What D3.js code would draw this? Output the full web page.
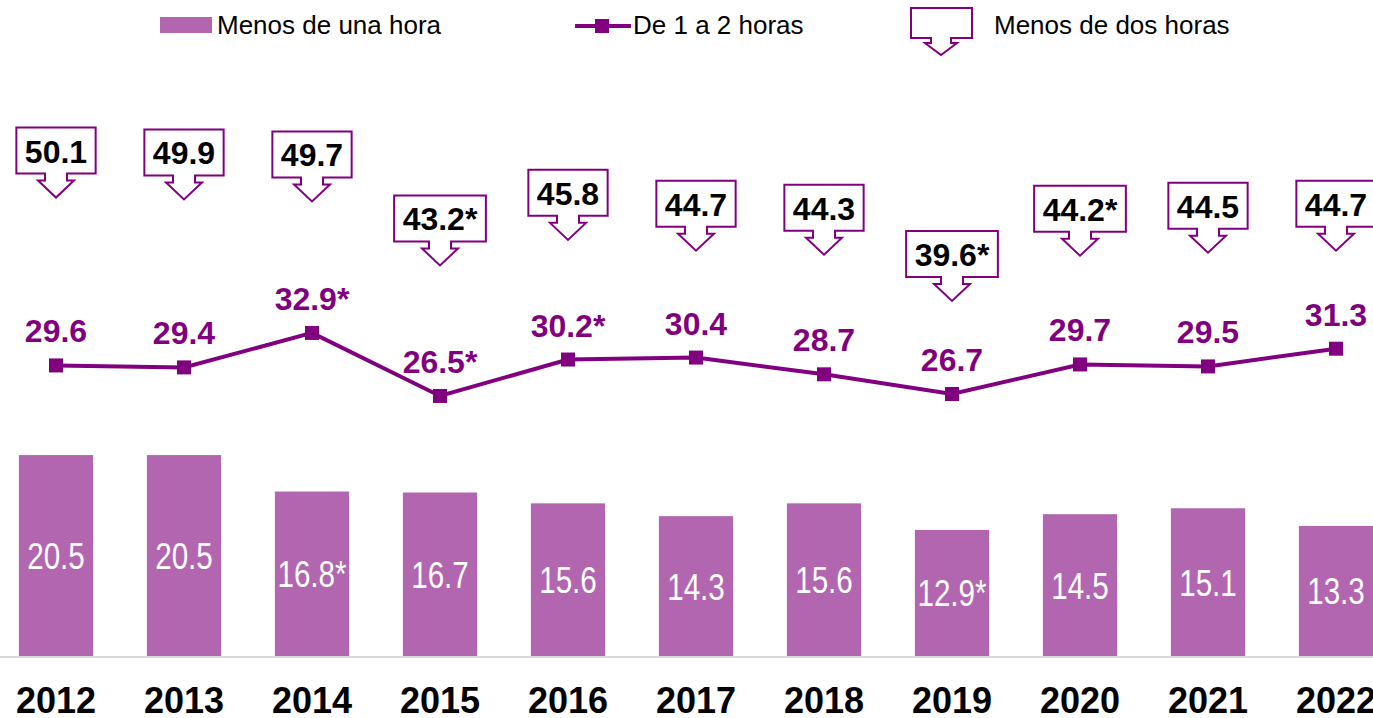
<!DOCTYPE html>
<html>
<head>
<meta charset="utf-8">
<script src="https://d3js.org/d3.v7.min.js"></script>
<style>
  body { margin: 0; background: #fff; }
  svg { display: block; font-family: Arial, "Liberation Sans", sans-serif; }
</style>
</head>
<body>
<script>
// data
var years = ["2012","2013","2014","2015","2016","2017","2018","2019","2020","2021","2022"];
var lessOne = [20.5, 20.5, 16.8, 16.7, 15.6, 14.3, 15.6, 12.9, 14.5, 15.1, 13.3];
var lessOneMark = ["", "", "*", "", "", "", "", "*", "", "", ""];
var oneToTwo = [29.6, 29.4, 32.9, 26.5, 30.2, 30.4, 28.7, 26.7, 29.7, 29.5, 31.3];
var oneToTwoMark = ["", "", "*", "*", "*", "", "", "", "", "", ""];
var lessTwo = [50.1, 49.9, 49.7, 43.2, 45.8, 44.7, 44.3, 39.6, 44.2, 44.5, 44.7];
var lessTwoMark = ["", "", "", "*", "", "", "", "*", "*", "", ""];
var legendNames = ["Menos de una hora", "De 1 a 2 horas", "Menos de dos horas"];

var w = 1373, h = 718;
var barColor = "#b266b0", lineColor = "#800080";

var svg = d3.select("body").append("svg")
  .attr("width", w)
  .attr("height", h);

var x = d3.scaleBand()
  .domain(years)
  .range([-8, 1400])
  .paddingInner(0.42)
  .paddingOuter(0.21);

var y = d3.scaleLinear()
  .domain([0, 66.7])
  .range([657, 0]);

var cx = function(d, i) { return x(years[i]) + x.bandwidth() / 2; };

// bars
svg.selectAll("rect.bar")
  .data(lessOne)
  .enter().append("rect")
  .attr("class", "bar")
  .attr("x", function(d, i) { return x(years[i]); })
  .attr("y", function(d) { return y(d); })
  .attr("width", x.bandwidth())
  .attr("height", function(d) { return y(0) - y(d); })
  .attr("fill", barColor);

// condensed look: no narrow font installed, so squeeze horizontally
svg.selectAll("text.barlabel")
  .data(lessOne)
  .enter().append("text")
  .attr("class", "barlabel")
  .attr("transform", function(d, i) {
    return "translate(" + cx(d, i) + "," + ((y(d) + y(0)) / 2 + 13) + ") scale(0.8,1)";
  })
  .attr("text-anchor", "middle")
  .attr("fill", "#fff")
  .style("font-size", "37px")
  .text(function(d, i) { return d.toFixed(1) + lessOneMark[i]; });

// axis baseline
svg.append("line")
  .attr("x1", 0).attr("x2", w)
  .attr("y1", y(0)).attr("y2", y(0))
  .attr("stroke", "#d9d9d9")
  .attr("stroke-width", 2);

// x axis labels
svg.selectAll("text.year")
  .data(years)
  .enter().append("text")
  .attr("class", "year")
  .attr("x", function(d) { return x(d) + x.bandwidth() / 2; })
  .attr("y", 713)
  .attr("text-anchor", "middle")
  .style("font-size", "36px")
  .style("font-weight", "bold")
  .text(function(d) { return d; });

// line
var line = d3.line()
  .x(cx)
  .y(function(d) { return y(d); });

svg.append("path")
  .datum(oneToTwo)
  .attr("d", line)
  .attr("fill", "none")
  .attr("stroke", lineColor)
  .attr("stroke-width", 4);

svg.selectAll("rect.marker")
  .data(oneToTwo)
  .enter().append("rect")
  .attr("class", "marker")
  .attr("x", function(d, i) { return cx(d, i) - 7; })
  .attr("y", function(d) { return y(d) - 7; })
  .attr("width", 14)
  .attr("height", 14)
  .attr("fill", lineColor);

svg.selectAll("text.linelabel")
  .data(oneToTwo)
  .enter().append("text")
  .attr("class", "linelabel")
  .attr("x", cx)
  .attr("y", function(d) { return y(d) - 23; })
  .attr("text-anchor", "middle")
  .attr("fill", lineColor)
  .style("font-size", "32px")
  .style("font-weight", "bold")
  .text(function(d, i) { return d.toFixed(1) + oneToTwoMark[i]; });

// callout shape: box centered on cx, arrow tip at (cx, tip)
function callout(c, tip, bw, bh) {
  var bot = tip - 24, top = bot - bh;
  var l = c - bw / 2, r = c + bw / 2;
  return "M" + l + "," + top + "H" + r + "V" + bot +
    "H" + (c + 11) + "V" + (bot + 7) + "H" + (c + 18) +
    "L" + c + "," + tip + "L" + (c - 18) + "," + (bot + 7) +
    "H" + (c - 11) + "V" + bot + "H" + l + "Z";
}

var calls = svg.selectAll("g.callout")
  .data(lessTwo)
  .enter().append("g")
  .attr("class", "callout");

calls.each(function(d, i) {
  var g = d3.select(this);
  var tip = y(d) + 34;
  var p = g.append("path");
  var t = g.append("text")
    .attr("x", cx(d, i))
    .attr("y", tip - 35)
    .attr("text-anchor", "middle")
    .attr("fill", "#000")
    .style("font-size", "32px")
    .style("font-weight", "bold")
    .text(d.toFixed(1) + lessTwoMark[i]);
  var tw = t.node().getComputedTextLength();
  p.attr("d", callout(cx(d, i), tip, tw + 17, 46))
    .attr("fill", "#fff")
    .attr("stroke", lineColor)
    .attr("stroke-width", 2);
});

// legend
var lg = svg.append("g").style("font-size", "26px");
lg.append("rect")
  .attr("x", 160).attr("y", 17).attr("width", 52).attr("height", 16)
  .attr("fill", barColor);
lg.append("text").attr("x", 217).attr("y", 34).text(legendNames[0]);

lg.append("line")
  .attr("x1", 575).attr("x2", 631).attr("y1", 26).attr("y2", 26)
  .attr("stroke", lineColor).attr("stroke-width", 4);
lg.append("rect")
  .attr("x", 595).attr("y", 19).attr("width", 14).attr("height", 14)
  .attr("fill", lineColor);
lg.append("text").attr("x", 633).attr("y", 34).text(legendNames[1]);

lg.append("path")
  .attr("d", "M911,8H972V38H951V43H957L941,55L925,43H931V38H911Z")
  .attr("fill", "#fff")
  .attr("stroke", lineColor)
  .attr("stroke-width", 2);
lg.append("text").attr("x", 994).attr("y", 34).text(legendNames[2]);
</script>
</body>
</html>
